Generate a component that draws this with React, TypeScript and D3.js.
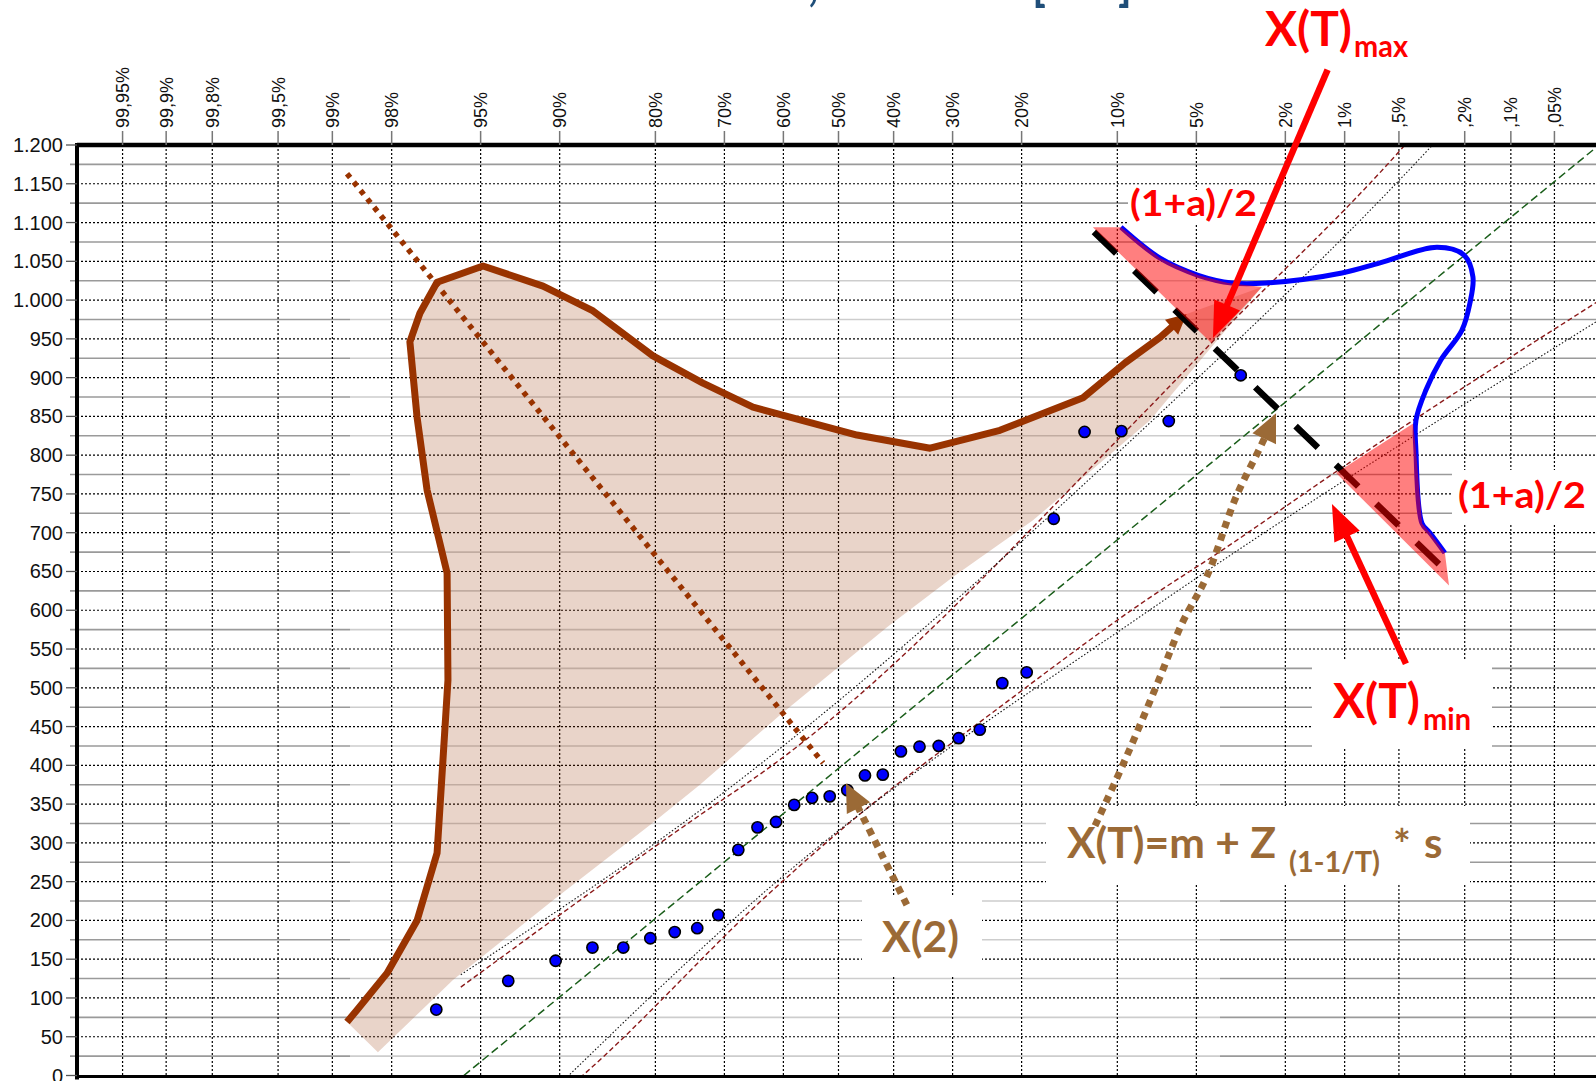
import React from "react";
import * as d3 from "d3";

// ---------- data ----------
// Exceedance probabilities on the top axis and their printed labels
const EXCEEDANCE = [0.9995, 0.999, 0.998, 0.995, 0.99, 0.98, 0.95, 0.9, 0.8, 0.7, 0.6, 0.5, 0.4, 0.3, 0.2, 0.1, 0.05, 0.02, 0.01, 0.005, 0.002, 0.001, 0.0005];
const EXCEEDANCE_LABELS = ["99,95%", "99,9%", "99,8%", "99,5%", "99%", "98%", "95%", "90%", "80%", "70%", "60%", "50%", "40%", "30%", "20%", "10%", "5%", "2%", "1%", ",5%", ",2%", ",1%", ",05%"];

// Sorted sample (annual maxima), plotted with Weibull positions i/(n+1)
const SAMPLE = [85, 122, 148, 165, 165, 177, 185, 190, 207, 291, 320, 327, 349, 358, 360, 368, 387, 388, 418, 424, 425, 435, 446, 506, 520, 718, 830, 831, 844, 903];

// Fitted normal line X(T) = m + z*s, [z, value]
const FIT_LINE: [number, number][] = [[-1.722, 0], [3.5, 1201]];

// Confidence bounds, [z, value]
const UPPER_DASHED: [number, number][] = [[-1.736, 114], [-0.636, 336], [-0.314, 398], [1.429, 862], [1.718, 946], [2.6, 1199], [2.65, 1215]];
const UPPER_DOTTED: [number, number][] = [[-1.736, 130], [-0.636, 342], [1.429, 841], [2.727, 1199], [2.78, 1215]];
const LOWER_DASHED: [number, number][] = [[-1.3, -30], [-1.176, 0], [-0.314, 236], [0.021, 319], [0.741, 475], [1.429, 616], [1.75, 675], [2.278, 777], [3.5, 1000]];
const LOWER_DOTTED: [number, number][] = [[-1.35, -30], [-1.24, 0], [-0.314, 243], [1.429, 600], [3.5, 975]];

// Sketched sampling distribution of X(T) for small T (brown) and its shaded band
const BROWN_CURVE: [number, number][] = [[-2.259, 69], [-2.213, 84.5], [-2.075, 132], [-1.937, 200], [-1.845, 287], [-1.818, 407], [-1.795, 510], [-1.799, 648], [-1.891, 755], [-1.937, 849], [-1.97, 946], [-1.924, 983], [-1.845, 1023], [-1.634, 1044], [-1.358, 1018], [-1.128, 986], [-0.853, 928], [-0.623, 893], [-0.393, 862], [0.085, 826], [0.421, 809], [0.742, 832], [1.124, 874], [1.317, 919], [1.478, 952], [1.6, 982]];
const BROWN_BAND_EDGE: [number, number][] = [[1.946, 1017], [1.432, 845], [0.894, 716], [0.526, 643], [0.223, 578], [-0.255, 468], [-0.637, 375], [-0.853, 326], [-1.312, 226], [-1.772, 123], [-2.117, 30]];

// Line from X(2) region towards the upper left
const BROWN_DOTTED: [number, number][] = [[-2.259, 1163], [-0.071, 403]];

// Sketched distribution of X(T) for large T (blue)
const BLUE_CURVE: [number, number][] = [[1.298, 1094], [1.478, 1054], [1.653, 1032], [1.808, 1022], [1.965, 1022], [2.314, 1035], [2.489, 1048], [2.751, 1068], [2.875, 1058], [2.916, 1030], [2.902, 996], [2.865, 961], [2.769, 923], [2.7, 884], [2.654, 845], [2.654, 806], [2.682, 712], [2.718, 700], [2.787, 674]];

// Tails of the blue distribution beyond the bounds
const TAIL_UPPER: [number, number][] = [[1.169, 1094], [1.298, 1094], [1.478, 1054], [1.653, 1032], [1.79, 1022], [1.946, 1017], [1.712, 945]];
const TAIL_LOWER: [number, number][] = [[2.287, 777], [2.641, 841], [2.654, 806], [2.682, 712], [2.718, 700], [2.787, 674], [2.806, 632]];

// Thick dashed cross-section line
const SECTION_LINE: [number, number][] = [[1.174, 1088], [2.787, 652]];

// Annotation arrows, [z, value]
const ARROW_MAX: [number, number][] = [[2.248, 1297], [1.721, 951]];
const ARROW_MIN: [number, number][] = [[2.608, 531], [2.268, 737]];
const ARROW_X2: [number, number][] = [[0.314, 220], [0.204, 282], [0.034, 377]];
const ARROW_XT: [number, number][] = [[1.179, 322], [1.317, 407], [1.459, 501], [1.579, 583], [1.695, 645], [1.827, 746], [1.933, 807], [2.011, 854]];

// ---------- helpers ----------
function probit(p: number): number {
  const a = [-39.69683028665376, 220.9460984245205, -275.9285104469687, 138.357751867269, -30.66479806614716, 2.506628277459239];
  const b = [-54.47609879822406, 161.5858368580409, -155.6989798598866, 66.80131188771972, -13.28068155288572];
  const c = [-0.007784894002430293, -0.3223964580411365, -2.400758277161838, -2.549732539343734, 4.374664141464968, 2.938163982698783];
  const d = [0.007784695709041462, 0.3224671290700398, 2.445134137142996, 3.754408661907416];
  const pl = 0.02425;
  if (p < pl) {
    const q = Math.sqrt(-2 * Math.log(p));
    return (((((c[0] * q + c[1]) * q + c[2]) * q + c[3]) * q + c[4]) * q + c[5]) / ((((d[0] * q + d[1]) * q + d[2]) * q + d[3]) * q + 1);
  }
  if (p <= 1 - pl) {
    const q = p - 0.5, r = q * q;
    return ((((((a[0] * r + a[1]) * r + a[2]) * r + a[3]) * r + a[4]) * r + a[5]) * q) / (((((b[0] * r + b[1]) * r + b[2]) * r + b[3]) * r + b[4]) * r + 1);
  }
  const q = Math.sqrt(-2 * Math.log(1 - p));
  return -(((((c[0] * q + c[1]) * q + c[2]) * q + c[3]) * q + c[4]) * q + c[5]) / ((((d[0] * q + d[1]) * q + d[2]) * q + d[3]) * q + 1);
}

function headPath(tip: [number, number], from: [number, number], len: number, wid: number) {
  const dx = tip[0] - from[0], dy = tip[1] - from[1];
  const L = Math.hypot(dx, dy);
  const ux = dx / L, uy = dy / L;
  const bx = tip[0] - ux * len, by = tip[1] - uy * len;
  return `M${tip[0]},${tip[1]}L${bx - (uy * wid) / 2},${by + (ux * wid) / 2}L${bx + (uy * wid) / 2},${by - (ux * wid) / 2}Z`;
}
function shorten(tip: [number, number], from: [number, number], len: number): [number, number] {
  const dx = tip[0] - from[0], dy = tip[1] - from[1];
  const L = Math.hypot(dx, dy);
  return [tip[0] - (dx / L) * len, tip[1] - (dy / L) * len];
}

const W = 1596, H = 1081;
const LEFT = 77, RIGHT = 1600, TOP = 145, BOTTOM = 1075.5;

const x = d3.scaleLinear().domain([-3.5, 3.5]).range([LEFT, RIGHT]);
const y = d3.scaleLinear().domain([0, 1200]).range([BOTTOM, TOP]);
const fmt = d3.formatLocale({ decimal: ",", thousands: ".", grouping: [3], currency: ["", ""] }).format(",");

const RED = "#ff0000";
const BROWN = "#993300";
const OCHRE = "#9b6a36";
const LABEL_FONT = "'Liberation Sans', Arial, Helvetica, sans-serif";
const NOTE_FONT = "Lato, 'Open Sans', sans-serif";

export default function App() {
  const px = (d: [number, number]): [number, number] => [x(d[0]), y(d[1])];
  const line = d3.line<[number, number]>().x((d) => x(d[0])).y((d) => y(d[1]));
  const smooth = d3.line<[number, number]>().x((d) => x(d[0])).y((d) => y(d[1])).curve(d3.curveMonotoneX);
  const round = d3.line<[number, number]>().x((d) => x(d[0])).y((d) => y(d[1])).curve(d3.curveCatmullRom.alpha(0.5));

  const majorY = d3.range(0, 1201, 50);
  const minorY = d3.range(25, 1200, 50);
  const tickZ = EXCEEDANCE.map((p) => probit(1 - p));
  const n = SAMPLE.length;
  const points = SAMPLE.map((v, i) => [probit((i + 1) / (n + 1)), v] as [number, number]);

  const band = [...BROWN_CURVE, ...BROWN_BAND_EDGE];

  // arrow geometry
  const maxTip = px(ARROW_MAX[1]), maxFrom = px(ARROW_MAX[0]);
  const minTip = px(ARROW_MIN[1]), minFrom = px(ARROW_MIN[0]);
  const x2Pts = ARROW_X2.map(px);
  const x2Tip = x2Pts[x2Pts.length - 1], x2Prev = x2Pts[x2Pts.length - 2];
  const xtPts = ARROW_XT.map(px);
  const xtTip = xtPts[xtPts.length - 1], xtPrev = xtPts[xtPts.length - 2];
  const brownPts = BROWN_CURVE.map(px);
  const brTip = brownPts[brownPts.length - 1], brPrev = brownPts[brownPts.length - 2];

  const pathOf = (pts: [number, number][]) => d3.line()(pts) as string;
  const curvedOf = (pts: [number, number][]) => d3.line().curve(d3.curveCatmullRom.alpha(0.5))(pts) as string;

  return (
    <svg width={W} height={H} viewBox={`0 0 ${W} ${H}`} style={{ position: "absolute", left: 0, top: 0, background: "#fff" }}>
      <defs>
        <clipPath id="plot">
          <rect x={LEFT} y={TOP} width={RIGHT - LEFT} height={BOTTOM - TOP} />
        </clipPath>
      </defs>
      <rect width={W} height={H} fill="#fff" />

      {/* title: sits above the page top, only its descenders reach into view */}
      <text x={522} y={0} fontFamily={NOTE_FONT} fontWeight={700} fontSize={52} fill="#1f4e79" textLength={610} lengthAdjust="spacingAndGlyphs">
        Annual rainfall, normal fit [mm]
      </text>

      {/* minor gridlines */}
      {minorY.map((v) => (
        <line key={"mi" + v} x1={70} x2={W} y1={y(v)} y2={y(v)} stroke="#9a9a9a" strokeWidth={1.6} />
      ))}
      {/* soft wash over the middle of the grid */}
      <rect x={350} y={278} width={870} height={784} fill="#fff" opacity={0.5} />

      {/* major gridlines */}
      {majorY.slice(1, -1).map((v) => (
        <line key={"ma" + v} x1={LEFT} x2={W} y1={y(v)} y2={y(v)} stroke="#000" strokeWidth={1.2} strokeDasharray="2 2" />
      ))}
      {tickZ.map((z, i) => (
        <line key={"vz" + i} x1={x(z)} x2={x(z)} y1={TOP} y2={BOTTOM} stroke="#000" strokeWidth={1.2} strokeDasharray="2 2" />
      ))}

      {/* label backings */}
      <rect x={1128} y={190} width={132} height={34} fill="#fff" />
      <rect x={1452} y={470} width={150} height={55} fill="#fff" />
      <rect x={1312} y={660} width={180} height={88} fill="#fff" />
      <rect x={1046} y={806} width={424} height={78} fill="#fff" />
      <rect x={862} y={897} width={120} height={78} fill="#fff" />

      <g clipPath="url(#plot)">
        {/* shaded band */}
        <path d={line(band) as string} fill={BROWN} fillOpacity={0.21} stroke="none" />

        {/* fit and bounds */}
        <path d={line(FIT_LINE) as string} fill="none" stroke="#1a5e1a" strokeWidth={1.5} strokeDasharray="8 4" />
        <path d={smooth(UPPER_DASHED) as string} fill="none" stroke="#8b1a1a" strokeWidth={1.4} strokeDasharray="5 3" />
        <path d={smooth(LOWER_DASHED) as string} fill="none" stroke="#8b1a1a" strokeWidth={1.4} strokeDasharray="5 3" />
        <path d={smooth(UPPER_DOTTED) as string} fill="none" stroke="#111" strokeWidth={1.1} strokeDasharray="1.5 2" />
        <path d={smooth(LOWER_DOTTED) as string} fill="none" stroke="#111" strokeWidth={1.1} strokeDasharray="1.5 2" />

        {/* dotted brown line */}
        <path d={line(BROWN_DOTTED) as string} fill="none" stroke={BROWN} strokeWidth={5.5} strokeDasharray="5 5.8" />

        {/* brown distribution outline */}
        <path d={pathOf([...brownPts.slice(0, -1), shorten(brTip, brPrev, 12)])} fill="none" stroke={BROWN} strokeWidth={7} strokeLinejoin="round" />
        <path d={headPath(brTip, brPrev, 20, 20)} fill={BROWN} />

        {/* blue distribution outline */}
        <path d={round(BLUE_CURVE) as string} fill="none" stroke="#0000ff" strokeWidth={5} strokeLinejoin="round" />

        {/* section line */}
        <path d={line(SECTION_LINE) as string} fill="none" stroke="#000" strokeWidth={6.5} strokeDasharray="31 25" />

        {/* tails */}
        <path d={line(TAIL_UPPER) + "Z"} fill="#ff0000" fillOpacity={0.5} />
        <path d={line(TAIL_LOWER) + "Z"} fill="#ff0000" fillOpacity={0.5} />

        {/* sample */}
        {points.map((d, i) => (
          <circle key={"p" + i} cx={x(d[0])} cy={y(d[1])} r={5.6} fill="#0000ff" stroke="#000" strokeWidth={1.6} />
        ))}
      </g>

      {/* axes */}
      <line x1={LEFT} x2={W} y1={TOP} y2={TOP} stroke="#000" strokeWidth={4.5} />
      <line x1={LEFT} x2={LEFT} y1={TOP - 2} y2={BOTTOM + 4} stroke="#000" strokeWidth={4} />
      <line x1={LEFT} x2={W} y1={BOTTOM + 1} y2={BOTTOM + 1} stroke="#000" strokeWidth={3} />
      {majorY.map((v) => (
        <g key={"yt" + v}>
          <line x1={66} x2={LEFT} y1={y(v)} y2={y(v)} stroke="#555" strokeWidth={1.3} />
          <text x={63} y={y(v)} dy="0.35em" textAnchor="end" fontFamily={LABEL_FONT} fontSize={20} fill="#111">
            {fmt(v)}
          </text>
        </g>
      ))}
      {tickZ.map((z, i) => (
        <g key={"xt" + i}>
          <line x1={x(z)} x2={x(z)} y1={131} y2={TOP} stroke="#777" strokeWidth={1.5} />
          <text transform={`translate(${x(z) + 6.5},128) rotate(-90)`} fontFamily={LABEL_FONT} fontSize={18} fill="#111">
            {EXCEEDANCE_LABELS[i]}
          </text>
        </g>
      ))}

      {/* red arrows */}
      <path d={pathOf([maxFrom, shorten(maxTip, maxFrom, 30)])} stroke={RED} strokeWidth={6.5} fill="none" />
      <path d={headPath(maxTip, maxFrom, 36, 28)} fill={RED} />
      <path d={pathOf([minFrom, shorten(minTip, minFrom, 30)])} stroke={RED} strokeWidth={6.5} fill="none" />
      <path d={headPath(minTip, minFrom, 36, 28)} fill={RED} />

      {/* ochre arrows */}
      <path d={curvedOf([...x2Pts.slice(0, -1), shorten(x2Tip, x2Prev, 24)])} stroke={OCHRE} strokeWidth={7} strokeDasharray="7 6" fill="none" />
      <path d={headPath(x2Tip, x2Prev, 28, 26)} fill={OCHRE} />
      <path d={curvedOf([...xtPts.slice(0, -1), shorten(xtTip, xtPrev, 24)])} stroke={OCHRE} strokeWidth={7} strokeDasharray="7 6" fill="none" />
      <path d={headPath(xtTip, xtPrev, 28, 26)} fill={OCHRE} />

      {/* annotations */}
      <g fontFamily={NOTE_FONT} fontWeight={700}>
        <text x={1265} y={46} fontSize={47} fill={RED} textLength={87} lengthAdjust="spacingAndGlyphs">X(T)</text>
        <text x={1354} y={57} fontSize={30} fill={RED} textLength={54} lengthAdjust="spacingAndGlyphs">max</text>
        <text x={1333} y={718} fontSize={47} fill={RED} textLength={87} lengthAdjust="spacingAndGlyphs">X(T)</text>
        <text x={1423} y={730} fontSize={30} fill={RED} textLength={48} lengthAdjust="spacingAndGlyphs">min</text>
        <text x={1130} y={216} fontSize={37} fill={RED} textLength={127} lengthAdjust="spacingAndGlyphs">(1+a)/2</text>
        <text x={1458} y={508} fontSize={37} fill={RED} textLength={128} lengthAdjust="spacingAndGlyphs">(1+a)/2</text>
        <text x={1067} y={858} fontSize={42} fill={OCHRE} textLength={209} lengthAdjust="spacingAndGlyphs">X(T)=m + Z</text>
        <text x={1289} y={872} fontSize={29} fill={OCHRE} textLength={91} lengthAdjust="spacingAndGlyphs">(1-1/T)</text>
        <text x={1393} y={860} fontSize={42} fill={OCHRE}>*</text>
        <text x={1424} y={858} fontSize={42} fill={OCHRE}>s</text>
        <text x={882} y={952} fontSize={42} fill={OCHRE} textLength={77} lengthAdjust="spacingAndGlyphs">X(2)</text>
      </g>
    </svg>
  );
}
